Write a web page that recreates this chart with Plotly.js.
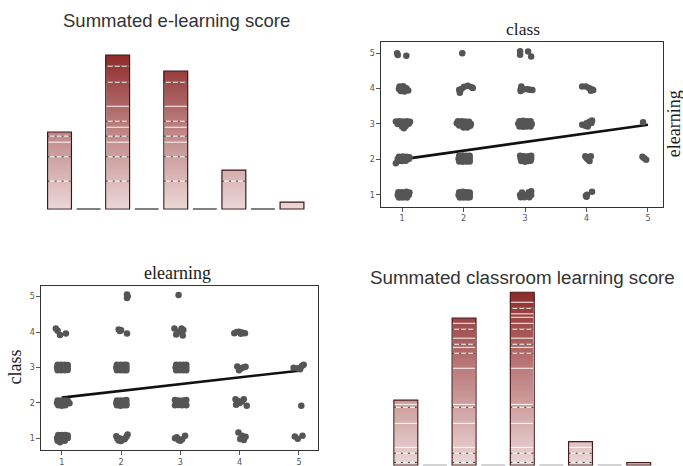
<!DOCTYPE html>
<html>
<head>
<meta charset="utf-8">
<script src="https://cdn.plot.ly/plotly-3.0.1.min.js"></script>
<style>html,body{margin:0;padding:0;background:#fff;}#chart{width:683px;height:466px;}</style>
</head>
<body>
<div id="chart"></div>
<script>
// ---------- DATA ----------
const scoreBins = [1, 2, 3, 4, 5, 6, 7, 8, 9];
const elearningBarValues = [50, 0, 100, 0, 89.6, 0, 25.3, 0, 4.5];
const classroomBarValues = [37.5, 0, 85.1, 0, 100, 0, 13.5, 0, 1.35];

const elearningWhiteLevels = [43.4, 53.1, 66.7];
const elearningDashLevels = [18.1, 33.9, 47.3, 57.0, 82.3, 92.7];
const classroomWhiteLevels = [10.2, 24.1, 35.1, 56.0, 68.1, 73.4, 82.0, 85.5, 87.5, 94.2];
const classroomDashLevels = [1.5, 6.8, 33.4, 64.7, 69.9, 78.6, 90.7];

const tickValues = [1, 2, 3, 4, 5];
const tickLabels = ["1", "2", "3", "4", "5"];

// top-right panel: x = class, y = elearning (jittered points)
const classElearningPoints = [
  [0.92,5.0],[0.93,4.95],[1.07,4.93],
  [1.98,5.0],
  [2.92,5.06],[2.92,4.96],[3.05,5.05],[3.1,4.91],
  [0.96,4.06],[1.02,4.07],[0.95,3.99],[1.01,4.0],[1.07,4.01],[0.98,3.93],[1.04,3.92],[1.1,3.95],
  [1.94,3.88],[1.93,3.97],[1.97,4.0],[2.01,4.05],[2.07,4.08],[2.13,4.04],[2.15,4.02],
  [2.94,4.06],[2.93,3.98],[2.93,3.93],[2.99,3.98],[3.04,3.98],[3.08,3.97],[3.12,3.96],
  [3.93,4.06],[3.99,4.06],[4.04,4.02],[4.08,3.98],[4.11,3.96],[4.07,3.94],
  [0.9,3.07],[0.96,3.08],[1.02,3.07],[1.08,3.08],[1.13,3.06],[0.93,3.0],[0.99,3.01],[1.05,3.0],[1.11,3.01],[1.0,2.93],[1.06,2.94],[1.03,2.88],
  [1.91,3.08],[1.97,3.08],[2.03,3.07],[2.09,3.06],[1.89,3.02],[1.95,3.02],[2.01,3.01],[2.07,3.0],[2.12,3.0],[1.93,2.96],[1.99,2.95],[2.05,2.94],[2.11,2.95],[2.0,2.9],[2.06,2.9],
  [2.91,3.08],[2.97,3.09],[3.03,3.08],[3.09,3.08],[2.89,3.01],[2.95,3.01],[3.01,3.01],[3.07,3.01],[3.11,3.0],[2.91,2.93],[2.97,2.92],[3.03,2.93],[3.09,2.93],
  [3.93,2.98],[3.98,2.95],[4.02,2.93],[4.0,3.02],[4.05,3.06],[4.09,3.1],[4.08,3.03],
  [4.92,3.05],
  [0.95,2.07],[1.01,2.08],[1.07,2.07],[1.12,2.06],[0.93,2.01],[0.99,2.01],[1.05,2.0],[1.11,2.01],[0.94,1.95],[1.0,1.95],[1.06,1.96],[0.9,1.89],
  [1.93,2.1],[1.99,2.11],[2.05,2.1],[2.1,2.1],[1.92,2.02],[1.98,2.02],[2.04,2.02],[2.1,2.02],[1.93,1.94],[1.99,1.93],[2.05,1.94],[2.1,1.94],
  [2.92,2.1],[2.98,2.09],[3.05,2.09],[3.1,2.1],[2.93,2.02],[2.99,2.02],[3.05,2.02],[3.1,2.02],[2.94,1.95],[3.0,1.93],[3.06,1.95],[3.09,1.96],
  [3.98,2.09],[4.07,2.09],[4.02,2.0],[4.05,1.95],[4.0,2.04],
  [4.91,2.07],[4.97,1.99],[4.94,2.03],
  [0.94,1.07],[1.0,1.07],[1.07,1.08],[1.12,1.06],[0.93,0.99],[0.99,0.99],[1.05,1.0],[1.11,0.99],[0.95,0.92],[1.01,0.92],[1.08,0.92],
  [1.93,1.07],[1.99,1.08],[2.05,1.07],[2.1,1.06],[1.92,0.99],[1.98,0.99],[2.04,0.99],[2.1,0.99],[1.94,0.92],[2.0,0.92],[2.06,0.92],[2.1,0.93],
  [2.95,1.06],[3.06,1.07],[3.1,1.1],[2.92,0.99],[2.98,0.99],[3.04,0.99],[3.1,0.99],[2.93,0.93],[2.99,0.93],[3.07,0.93],
  [4.0,0.94],[4.01,1.0],[4.09,1.08],[3.99,0.97]
];
const classElearningFitX = [1, 5];
const classElearningFitY = [2.0, 2.98];

// bottom-left panel: x = elearning, y = class (jittered points)
const elearningClassPoints = [
  [2.1,5.06],[2.1,4.96],[2.11,5.01],
  [2.97,5.05],
  [0.9,4.1],[0.93,4.04],[0.97,3.92],[1.07,3.96],
  [1.96,4.07],[2.0,4.05],[1.98,4.03],[2.1,3.96],
  [2.9,4.1],[2.97,4.01],[3.02,4.1],[3.05,4.06],[2.93,3.93],[3.04,3.9],
  [3.91,3.97],[3.95,4.0],[3.99,4.01],[4.04,3.99],[4.09,3.97],[4.02,3.95],
  [0.93,3.08],[0.99,3.08],[1.05,3.08],[1.1,3.07],[0.92,3.0],[0.98,3.0],[1.04,3.0],[1.1,3.0],[0.93,2.92],[0.99,2.92],[1.05,2.92],[1.1,2.93],
  [1.93,3.08],[1.99,3.08],[2.05,3.08],[2.09,3.08],[1.92,3.0],[1.98,3.0],[2.04,3.0],[2.09,3.0],[1.93,2.92],[1.99,2.92],[2.05,2.92],[2.09,2.92],
  [2.93,3.08],[2.99,3.08],[3.05,3.08],[3.1,3.08],[2.92,3.0],[2.98,3.0],[3.04,3.0],[3.1,3.0],[2.93,2.92],[2.99,2.92],[3.05,2.92],[3.1,2.92],
  [3.96,3.03],[4.02,2.97],[4.1,3.02],[3.99,2.92],[4.06,3.0],
  [4.91,2.99],[4.98,2.98],[5.05,3.04],[5.08,3.08],[5.02,2.95],
  [0.93,2.07],[0.99,2.07],[1.05,2.07],[1.1,2.06],[0.92,2.0],[0.98,2.0],[1.04,2.0],[1.1,2.0],[1.13,1.99],[0.94,1.93],[1.0,1.92],[1.06,1.93],
  [1.93,2.07],[1.99,2.07],[2.05,2.07],[2.09,2.08],[1.92,2.0],[1.98,2.0],[2.04,2.0],[2.09,2.0],[1.93,1.93],[1.99,1.92],[2.05,1.93],[2.09,1.93],
  [2.91,2.08],[2.97,2.07],[3.04,2.07],[3.1,2.08],[2.93,2.0],[2.99,2.0],[3.05,2.0],[2.91,1.93],[2.97,1.94],[3.03,1.93],[3.1,1.93],
  [3.93,2.1],[4.07,2.1],[4.0,2.0],[3.94,1.95],[4.12,1.92],[4.04,2.04],[3.97,2.05],
  [5.04,1.92],
  [0.94,1.09],[1.0,1.09],[1.06,1.09],[1.1,1.08],[0.92,1.01],[0.98,1.01],[1.04,1.01],[1.1,1.01],[0.93,0.93],[0.99,0.93],[1.05,0.93],[0.97,0.89],
  [1.92,1.06],[1.97,1.0],[2.02,0.97],[2.0,0.92],[2.06,0.97],[2.09,1.04],[2.11,1.11],[1.94,0.99],[1.96,0.94],
  [2.91,1.0],[2.97,0.95],[3.03,0.97],[3.08,1.07],[2.94,1.03],[3.0,0.93],
  [3.98,1.16],[4.04,1.07],[4.01,0.98],[4.1,1.04],[4.07,0.95],
  [4.93,1.05],[4.98,0.99],[5.06,1.07]
];
const elearningClassFitX = [1, 5];
const elearningClassFitY = [2.15, 2.91];

// ---------- BUILD ----------
const BAR_W = 0.82;
const gradScale = [[0, '#ecd7d7'], [0.5, '#c08686'], [1, '#8e2a2a']];

function barTraces(vals, whiteLv, dashLv, xa, ya, zeroColor, outlineColor) {
  const vmax = Math.max(...vals);
  const N = 70, step = vmax / N;
  const gx = [], gy = [], gc = [];
  const wx = [], wy = [];
  const dx = [], dy = [];
  const ox = [], oy = [];
  const zx = [], zy = [];
  const allLv = whiteLv.concat(dashLv);
  scoreBins.forEach((c, i) => {
    const h = vals[i];
    if (h <= 0) {
      zx.push(c - BAR_W / 2, c + BAR_W / 2, null); zy.push(0, 0, null);
      return;
    }
    const n = Math.ceil(h / step);
    for (let k = n - 1; k >= 0; k--) {
      gx.push(c); gy.push(Math.min(h, (k + 1) * step)); gc.push((k + 0.5) * step);
    }
    allLv.forEach(l => { if (l < h - 0.4) { wx.push(c); wy.push(l); } });
    dashLv.forEach(l => { if (l < h - 0.4) { dx.push(c - BAR_W / 2, c + BAR_W / 2, null); dy.push(l, l, null); } });
    ox.push(c); oy.push(h);
  });
  return [
    {type: 'bar', x: gx, y: gy, width: BAR_W, xaxis: xa, yaxis: ya, hoverinfo: 'skip',
     marker: {color: gc, colorscale: gradScale, cmin: 0, cmax: vmax, line: {width: 0}}},
    {type: 'bar', x: wx, y: wy, width: BAR_W, xaxis: xa, yaxis: ya, hoverinfo: 'skip',
     marker: {color: 'rgba(0,0,0,0)', line: {color: 'rgba(255,255,255,0.95)', width: 1}}},
    {type: 'scatter', mode: 'lines', x: dx, y: dy, xaxis: xa, yaxis: ya, hoverinfo: 'skip',
     line: {color: '#333', width: 1, dash: '2px,5px'}},
    {type: 'bar', x: ox, y: oy, width: BAR_W, xaxis: xa, yaxis: ya, hoverinfo: 'skip',
     marker: {color: 'rgba(0,0,0,0)', line: {color: outlineColor, width: 1.2}}},
    {type: 'scatter', mode: 'lines', x: zx, y: zy, xaxis: xa, yaxis: ya, hoverinfo: 'skip', cliponaxis: false,
     line: {color: zeroColor, width: 1.3}}
  ];
}

function scatterTraces(points, fitX, fitY, xa, ya) {
  return [
    {type: 'scatter', mode: 'lines', x: fitX, y: fitY, xaxis: xa, yaxis: ya, hoverinfo: 'skip',
     line: {color: '#111', width: 2.6}},
    {type: 'scatter', mode: 'markers', x: points.map(p => p[0]), y: points.map(p => p[1]),
     xaxis: xa, yaxis: ya, hoverinfo: 'skip',
     marker: {color: '#555555', size: 6.5, line: {width: 0}}}
  ];
}

const traces = []
  .concat(barTraces(elearningBarValues, elearningWhiteLevels, elearningDashLevels, 'x', 'y', '#555', '#3e1616'))
  .concat(scatterTraces(classElearningPoints, classElearningFitX, classElearningFitY, 'x2', 'y2'))
  .concat(scatterTraces(elearningClassPoints, elearningClassFitX, elearningClassFitY, 'x3', 'y3'))
  .concat(barTraces(classroomBarValues, classroomWhiteLevels, classroomDashLevels, 'x4', 'y4', '#c4c4c4', '#4a1c1c'));

const hiddenAxis = {visible: false, fixedrange: true, showgrid: false, zeroline: false};
function frameAxis(range, domain, anchor) {
  return {range: range, domain: domain, anchor: anchor, showgrid: false, zeroline: false,
    showline: true, mirror: true, linecolor: '#333', linewidth: 1,
    ticks: 'outside', ticklen: 4, tickwidth: 1, tickcolor: '#555',
    tickvals: tickValues, ticktext: tickLabels,
    tickfont: {family: 'DejaVu Sans', size: 8, color: '#555'}, fixedrange: true};
}

const serif = {family: 'Liberation Serif, Times New Roman, serif', color: '#1a1a1a'};
const sans = {family: 'Liberation Sans, Arial, sans-serif', color: '#333'};

const layout = {
  width: 683, height: 466, autosize: false,
  margin: {l: 0, r: 0, t: 0, b: 0},
  paper_bgcolor: '#fff', plot_bgcolor: 'rgba(0,0,0,0)',
  showlegend: false, barmode: 'overlay',
  xaxis: Object.assign({}, hiddenAxis, {range: [0.5, 9.5], domain: [0.0659, 0.4488], anchor: 'y'}),
  yaxis: Object.assign({}, hiddenAxis, {range: [-3, 102], domain: [0.5416, 0.8886], anchor: 'x'}),
  xaxis2: frameAxis([0.663, 5.244], [0.5583, 0.9707], 'y2'),
  yaxis2: frameAxis([0.66, 5.31], [0.5564, 0.9092], 'x2'),
  xaxis3: frameAxis([0.655, 5.316], [0.0605, 0.4651], 'y3'),
  yaxis3: frameAxis([0.661, 5.31], [0.0337, 0.3869], 'x3'),
  xaxis4: Object.assign({}, hiddenAxis, {range: [0.5, 9.5], domain: [0.5729, 0.9565], anchor: 'y4'}),
  yaxis4: Object.assign({}, hiddenAxis, {range: [-0.58, 102], domain: [0, 0.3803], anchor: 'x4'}),
  annotations: [
    {text: 'Summated e-learning score', xref: 'paper', yref: 'paper', x: 0.2577, y: 0.956,
     xanchor: 'center', yanchor: 'middle', showarrow: false, font: Object.assign({size: 18.5}, sans)},
    {text: 'Summated classroom learning score', xref: 'paper', yref: 'paper', x: 0.7643, y: 0.4045,
     xanchor: 'center', yanchor: 'middle', showarrow: false, font: Object.assign({size: 18.8}, sans)},
    {text: 'class', xref: 'paper', yref: 'paper', x: 0.7657, y: 0.9378,
     xanchor: 'center', yanchor: 'middle', showarrow: false, font: Object.assign({size: 17.5}, serif)},
    {text: 'elearning', xref: 'paper', yref: 'paper', x: 0.9868, y: 0.7354, textangle: -90,
     xanchor: 'center', yanchor: 'middle', showarrow: false, font: Object.assign({size: 18}, serif)},
    {text: 'elearning', xref: 'paper', yref: 'paper', x: 0.2606, y: 0.4142,
     xanchor: 'center', yanchor: 'middle', showarrow: false, font: Object.assign({size: 18}, serif)},
    {text: 'class', xref: 'paper', yref: 'paper', x: 0.022, y: 0.2114, textangle: -90,
     xanchor: 'center', yanchor: 'middle', showarrow: false, font: Object.assign({size: 18}, serif)}
  ]
};

Plotly.newPlot('chart', traces, layout, {staticPlot: true, displayModeBar: false});
</script>
</body>
</html>
